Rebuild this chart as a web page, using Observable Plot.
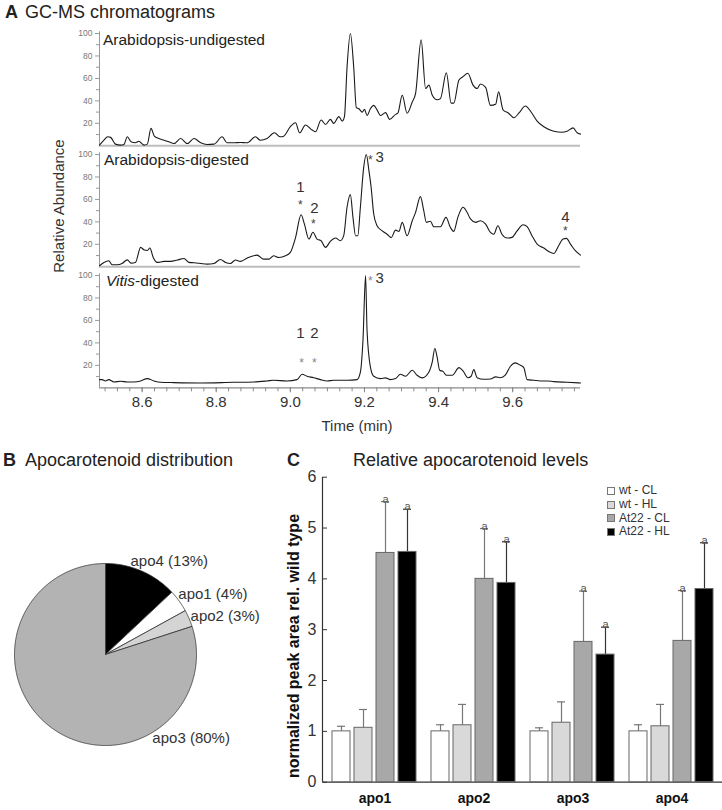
<!DOCTYPE html>
<html><head><meta charset="utf-8">
<script src="https://cdn.jsdelivr.net/npm/d3@7"></script>
<script src="https://cdn.jsdelivr.net/npm/@observablehq/plot@0.6"></script>
<style>
body{margin:0;background:#fff;}
#fig{position:relative;width:722px;height:810px;font-family:"Liberation Sans",Arial,sans-serif;color:#222;overflow:hidden;background:#fff;}
#fig svg{position:absolute;overflow:visible;}
.t{position:absolute;white-space:nowrap;line-height:1;}
.leg{position:absolute;left:607px;top:484px;font-size:12px;line-height:13.8px;color:#333;}
.leg div{display:flex;align-items:center;height:13.8px;}
.leg span.sw{display:inline-block;width:6px;height:6px;border:1px solid #777;margin-right:4px;}
</style></head><body><div id="fig"></div>
<script>
// ---------- DATA ----------
// Chromatograms: [time (min), relative abundance]
const undigested = [[8.485,0.6],[8.497,5],[8.507,8],[8.515,7.5],[8.528,1.5],[8.542,0.6],[8.551,1.2],[8.560,8],[8.570,3.6],[8.582,2.7],[8.591,4],[8.605,0.6],[8.614,1.5],[8.624,15.5],[8.633,8.6],[8.645,6.5],[8.659,5],[8.672,3.6],[8.686,2],[8.704,6.5],[8.722,2],[8.740,6.5],[8.758,2.7],[8.775,1.2],[8.794,1.5],[8.816,8],[8.829,2.7],[8.847,2.7],[8.865,3],[8.883,2.7],[8.906,8],[8.919,5],[8.937,6.5],[8.957,11.6],[8.973,8],[8.982,8.6],[9.000,17],[9.014,20.5],[9.025,11.6],[9.041,18.5],[9.059,14],[9.068,12.5],[9.083,23],[9.095,19],[9.108,23.5],[9.117,20],[9.131,26],[9.140,22],[9.146,26],[9.153,70],[9.162,100],[9.171,70],[9.178,34],[9.185,33],[9.194,30],[9.200,32.4],[9.207,27],[9.216,33],[9.225,36],[9.234,32],[9.243,27],[9.257,29.5],[9.268,23.5],[9.284,28],[9.290,29],[9.302,45],[9.315,29],[9.329,39],[9.338,46.7],[9.353,94.3],[9.365,51],[9.374,54],[9.383,45],[9.396,41],[9.405,42],[9.421,65],[9.434,38],[9.441,38],[9.455,58.6],[9.466,61.6],[9.479,64.6],[9.493,54],[9.504,51],[9.513,55],[9.527,52],[9.540,36],[9.554,37],[9.562,48],[9.574,32],[9.589,29],[9.603,25],[9.619,30],[9.634,35.4],[9.652,29],[9.666,22],[9.684,17],[9.711,13],[9.733,12],[9.747,13],[9.763,16],[9.774,11.6],[9.783,10.4]];
const digested = [[8.485,0.9],[8.497,3.9],[8.510,5.4],[8.519,1.8],[8.533,1.8],[8.546,3],[8.560,6.2],[8.570,3.3],[8.582,3.9],[8.596,17.3],[8.606,14.9],[8.614,14.5],[8.621,16.7],[8.630,8.3],[8.641,3.9],[8.659,4.8],[8.677,4.8],[8.695,6],[8.713,7.4],[8.726,3.9],[8.740,3.6],[8.758,3],[8.775,2.4],[8.794,3],[8.811,6.5],[8.825,3.9],[8.838,3],[8.852,6],[8.865,4.8],[8.883,7.7],[8.910,10.4],[8.928,6.8],[8.942,6.8],[8.955,9.8],[8.969,8.3],[8.987,9.8],[9.000,12.8],[9.014,26],[9.029,46.4],[9.038,38],[9.050,24.7],[9.061,30.7],[9.072,24.7],[9.083,23.2],[9.095,17.3],[9.108,22.6],[9.122,25.6],[9.135,23.2],[9.144,27.7],[9.153,53],[9.162,64.3],[9.169,44],[9.176,27.7],[9.182,27.7],[9.189,53],[9.198,88.7],[9.205,100],[9.212,85.7],[9.218,70.8],[9.225,47],[9.234,36.6],[9.248,32],[9.261,29],[9.272,26],[9.284,32.7],[9.293,31.5],[9.302,39.6],[9.315,27.7],[9.329,41],[9.338,48.5],[9.351,62.5],[9.360,50],[9.367,39.6],[9.378,40.5],[9.387,35.7],[9.405,35.7],[9.420,44],[9.432,35],[9.441,31.5],[9.452,44],[9.466,53],[9.477,48.5],[9.486,42.6],[9.500,39.6],[9.513,41],[9.527,38],[9.540,30.6],[9.549,29],[9.560,36.6],[9.571,29],[9.585,25.6],[9.598,26.2],[9.612,32],[9.628,37.5],[9.639,35.7],[9.652,27.7],[9.666,20.2],[9.684,16.7],[9.697,13.7],[9.711,11.9],[9.724,18.8],[9.736,24.7],[9.745,25.3],[9.756,20.2],[9.769,14.3],[9.783,10.4]];
const vitis = [[8.485,7.3],[8.492,7.3],[8.501,6.1],[8.510,7.3],[8.524,5.2],[8.542,5.8],[8.560,5.2],[8.578,5.2],[8.596,6.1],[8.614,8.2],[8.632,6.1],[8.650,4.9],[8.686,4.6],[8.758,4.3],[8.847,4.9],[8.901,5.2],[8.937,6.1],[8.955,6.7],[8.991,6.1],[9.018,7.3],[9.032,12],[9.045,10.3],[9.063,9],[9.081,7.3],[9.099,6.1],[9.117,6.7],[9.153,6.7],[9.180,7.3],[9.189,14],[9.196,42.4],[9.203,100],[9.207,51],[9.216,18.6],[9.225,10.3],[9.243,8.2],[9.257,8.8],[9.270,7.3],[9.284,8.2],[9.297,12],[9.311,10.3],[9.329,15.6],[9.342,11.2],[9.356,8.8],[9.374,14],[9.383,23],[9.390,35],[9.396,27.5],[9.403,15.6],[9.412,14.6],[9.421,11.2],[9.437,11.2],[9.455,18],[9.466,15],[9.479,9],[9.488,10.3],[9.495,16.2],[9.504,9],[9.522,7.6],[9.540,7.9],[9.554,9.7],[9.567,9],[9.580,11.2],[9.594,19.2],[9.607,22.2],[9.621,20],[9.630,18],[9.639,7.3],[9.657,6.7],[9.675,6.1],[9.693,6.1],[9.711,5.5],[9.747,4.9],[9.783,4.3]];
// Peak annotations (time, abundance)
const digestedNums = [{label:"1",t:9.027,a:71},{label:"2",t:9.065,a:52},{label:"3",t:9.241,a:97.5},{label:"4",t:9.742,a:44}];
const digestedStars = [{t:9.027,a:58},{t:9.062,a:41},{t:9.216,a:97.5},{t:9.742,a:34}];
const vitisNums = [{label:"1",t:9.027,a:48.7},{label:"2",t:9.065,a:48.7},{label:"3",t:9.241,a:97.5}];
const vitisStars = [{t:9.030,a:24.6},{t:9.065,a:24.6},{t:9.216,a:97.5}];
const timeDomain = [8.485, 9.783];
const timeTickLabels = [8.6, 8.8, 9.0, 9.2, 9.4, 9.6];
const abundTickLabels = [20, 40, 60, 80, 100];
const abundMinorTicks = [10, 30, 50, 70, 90];

// Pie
const pieNames = ["apo4", "apo1", "apo2", "apo3"];
const pieShares = [13, 4, 3, 80];
const pieLabelPos = [[0.275, 1.03], [0.80, 0.66], [0.935, 0.42], [0.515, -0.925]];

// Bars
const groups = ["apo1", "apo2", "apo3", "apo4"];
const series = ["wt - CL", "wt - HL", "At22 - CL", "At22 - HL"];
const means = [
  [1.00, 1.00, 1.00, 1.00],
  [1.07, 1.12, 1.17, 1.10],
  [4.51, 4.00, 2.76, 2.78],
  [4.53, 3.92, 2.51, 3.80]
];
const sds = [
  [0.10, 0.13, 0.07, 0.13],
  [0.36, 0.41, 0.41, 0.43],
  [1.01, 0.99, 1.00, 0.99],
  [0.84, 0.81, 0.54, 0.91]
];
const sigLetters = [["","","",""],["","","",""],["a","a","a","a"],["a","a","a","a"]];
const barTicks = [0, 1, 2, 3, 4, 5, 6];

// ---------- STYLES ----------
const FONT = "Liberation Sans, Arial, sans-serif";
const pieFills = ["#000000", "#ffffff", "#d4d4d4", "#b3b3b3"];
const barFills = ["#ffffff", "#d9d9d9", "#a8a8a8", "#000000"];
const errColors = ["#777", "#777", "#777", "#333"];

const fig = document.getElementById("fig");
function put(svg, left, top) {
  svg.style.left = left + "px"; svg.style.top = top + "px"; fig.appendChild(svg);
}
function addText(html, x, cy, size, o = {}) {
  const el = document.createElement("div");
  el.className = "t";
  el.innerHTML = html;
  el.style.fontSize = size + "px";
  el.style.fontWeight = o.weight || "normal";
  el.style.color = o.color || "#222";
  el.style.left = x + "px";
  if (o.rotate) {
    el.style.top = cy + "px";
    el.style.transform = "translate(-50%,-50%) rotate(-90deg)";
  } else {
    el.style.top = (cy - 0.5 * size) + "px";
    if (o.anchor === "middle") el.style.transform = "translateX(-50%)";
  }
  fig.appendChild(el);
}

// ---------- PANEL A ----------
function chromatogram(data, nums, stars, baseY, withX, starColor) {
  const innerH = 112.3, mt = 14, mb = withX ? 34 : 4;
  const marks = [
    withX ? Plot.ruleY([0], {stroke: "#8a8a8a", strokeWidth: 1.3})
          : Plot.ruleY([0], {stroke: "#bdbdbd", strokeWidth: 2}),
    Plot.ruleX([timeDomain[0]], {y1: 0, y2: 101.5, stroke: "#999"}),
    Plot.axisY({ticks: abundTickLabels, tickSize: 4, tickPadding: 3, fontSize: 8.5, fill: "#777", stroke: "#999", label: null}),
    Plot.axisY({ticks: abundMinorTicks, tickSize: 3, tickFormat: () => "", stroke: "#999", label: null}),
    Plot.line(data, {x: d => d[0], y: d => d[1], curve: "monotone-x", stroke: "#1a1a1a", strokeWidth: 1.1}),
    Plot.text(nums, {x: "t", y: "a", text: "label", fontSize: 15, fill: "#333"}),
    Plot.text(stars, {x: "t", y: "a", text: () => "*", fontSize: 12, dy: 3, fill: starColor})
  ];
  if (withX) {
    marks.push(
      Plot.axisX({ticks: timeTickLabels, tickSize: 5, tickPadding: 4, fontSize: 15, fill: "#333", stroke: "#888", tickFormat: d3.format(".1f"), label: null}),
      Plot.axisX({ticks: d3.range(0, 39).map(i => 8.5 + i / 30), tickSize: 4, tickFormat: () => "", stroke: "#888", label: null})
    );
  }
  const svg = Plot.plot({
    width: 722, height: innerH + mt + mb,
    marginLeft: 99, marginRight: 142, marginTop: mt, marginBottom: mb,
    x: withX ? {domain: timeDomain} : {domain: timeDomain, axis: null},
    y: {domain: [0, 100], axis: null},
    style: {fontFamily: FONT, background: "transparent", overflow: "visible"},
    marks
  });
  put(svg, 0, baseY - innerH - mt);
}
chromatogram(undigested, [], [], 145.7, false, "#444");
chromatogram(digested, digestedNums, digestedStars, 266.3, false, "#444");
chromatogram(vitis, vitisNums, vitisStars, 387.3, true, "#888");

addText("<b>A</b>", 5, 12, 18);
addText("GC-MS chromatograms", 25, 12, 18);
addText("Arabidopsis-undigested", 103, 40, 15.5);
addText("Arabidopsis-digested", 104, 160, 15.5);
addText("<i>Vitis</i>-digested", 106, 281, 15.5);
addText("Relative Abundance", 58, 206, 15, {rotate: true, color: "#333"});
addText("Time (min)", 357, 425, 15, {anchor: "middle", color: "#333"});

// ---------- PANEL B ----------
const arcs = d3.pie().sort(null).value(d => d)(pieShares);
const slices = arcs.map((a, i) => {
  const pts = [{x: 0, y: 0}];
  const n = Math.max(2, Math.ceil((a.endAngle - a.startAngle) / (Math.PI / 360)));
  for (let k = 0; k <= n; k++) {
    const ang = a.startAngle + (a.endAngle - a.startAngle) * k / n;
    pts.push({x: Math.sin(ang), y: Math.cos(ang)});
  }
  pts.push({x: 0, y: 0});
  return pts;
});
const pieLabels = pieNames.map((n, i) => ({text: `${n} (${pieShares[i]}%)`, x: pieLabelPos[i][0], y: pieLabelPos[i][1]}));
const pieSvg = Plot.plot({
  width: 280, height: 300,
  x: {domain: [-1, 1], range: [14, 196], axis: null},
  y: {domain: [-1, 1], range: [265, 83], axis: null},
  style: {fontFamily: FONT, background: "transparent", overflow: "visible"},
  marks: [
    ...slices.map((pts, i) => Plot.line(pts, {x: "x", y: "y", fill: pieFills[i], stroke: "#333", strokeWidth: 0.8, strokeLinejoin: "round"})),
    Plot.text(pieLabels, {x: "x", y: "y", text: "text", textAnchor: "start", fontSize: 15, fill: "#333"})
  ]
});
put(pieSvg, 0, 480);
addText("<b>B</b>", 3, 460, 18);
addText("Apocarotenoid distribution", 25, 460, 18);

// ---------- PANEL C ----------
const rows = groups.flatMap((g, gi) => series.map((s, si) => ({
  group: g, series: s, mean: means[si][gi], sd: sds[si][gi], top: means[si][gi] + sds[si][gi], sig: sigLetters[si][gi]
})));
const barSvg = Plot.plot({
  width: 472, height: 350, marginLeft: 75, marginRight: 1, marginTop: 16.7, marginBottom: 28.3,
  fx: {domain: groups, padding: 0, label: null},
  x: {domain: series, paddingInner: 0.178, paddingOuter: 0.31, axis: null},
  y: {domain: [0, 6], axis: null},
  color: {domain: series, range: barFills},
  style: {fontFamily: FONT, background: "transparent", overflow: "visible"},
  marks: [
    Plot.ruleX(rows, {fx: "group", x: "series", y1: "mean", y2: "top", stroke: d => errColors[series.indexOf(d.series)], strokeWidth: 1.2}),
    Plot.tickY(rows, {fx: "group", x: "series", y: "top", insetLeft: 5, insetRight: 5, stroke: d => errColors[series.indexOf(d.series)], strokeWidth: 1.2}),
    Plot.barY(rows, {fx: "group", x: "series", y: "mean", fill: "series", stroke: "#666", strokeWidth: 1}),
    Plot.text(rows.filter(d => d.sig), {fx: "group", x: "series", y: "top", text: "sig", lineAnchor: "bottom", dy: 1, fontSize: 11, fill: "#555"}),
    Plot.axisFx({anchor: "bottom", tickSize: 0, tickPadding: 11, fontSize: 14, fontWeight: "bold", fill: "#111", label: null})
  ]
});
barSvg.querySelectorAll("text").forEach(t => { if (groups.includes(t.textContent)) t.style.fontWeight = "bold"; });
const axisSvg = Plot.plot({
  width: 472, height: 350, marginLeft: 72, marginRight: 0, marginTop: 16.7, marginBottom: 28.3,
  x: {domain: [0, 1], axis: null},
  y: {domain: [0, 6], axis: null},
  style: {fontFamily: FONT, background: "transparent", overflow: "visible"},
  marks: [
    Plot.ruleY([0], {stroke: "#333", strokeWidth: 1.2}),
    Plot.ruleX([0], {y1: 0, y2: 6, stroke: "#333", strokeWidth: 1.2}),
    Plot.axisY({ticks: barTicks, anchor: "right", frameAnchor: "left", tickSize: 4, tickFormat: () => "", stroke: "#333", label: null}),
    Plot.axisY({ticks: barTicks, anchor: "left", tickSize: 0, tickPadding: 6, fontSize: 16, fill: "#333", tickFormat: d3.format("d"), label: null})
  ]
});
put(axisSvg, 250, 460);
put(barSvg, 250, 460);
addText("<b>C</b>", 287, 460, 18);
addText("Relative apocarotenoid levels", 353, 460, 18);
addText("normalized peak area rel. wild type", 294, 646, 16, {rotate: true, weight: "bold", color: "#111"});

// legend
const leg = document.createElement("div");
leg.className = "leg";
series.forEach((s, i) => {
  const row = document.createElement("div");
  const sw = document.createElement("span");
  sw.className = "sw"; sw.style.background = barFills[i];
  row.appendChild(sw);
  row.appendChild(document.createTextNode(s));
  leg.appendChild(row);
});
fig.appendChild(leg);
</script></body></html>
